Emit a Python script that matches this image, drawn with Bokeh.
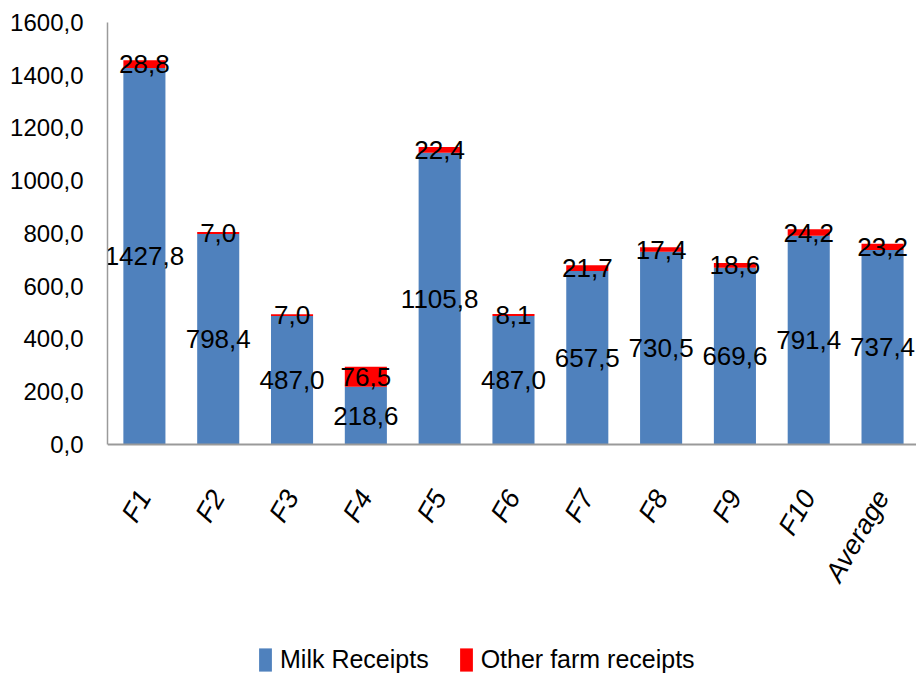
import math
from bokeh.plotting import figure
from bokeh.models import ColumnDataSource, Range1d, FixedTicker, Legend, LegendItem
from bokeh.core.properties import value
from bokeh.embed import file_html
from bokeh.resources import INLINE

categories = ["F1", "F2", "F3", "F4", "F5", "F6", "F7", "F8", "F9", "F10", "Average"]
milk_receipts = [1427.8, 798.4, 487.0, 218.6, 1105.8, 487.0, 657.5, 730.5, 669.6, 791.4, 737.4]
other_receipts = [28.8, 7.0, 7.0, 76.5, 22.4, 8.1, 21.7, 17.4, 18.6, 24.2, 23.2]
y_ticks = [0, 200, 400, 600, 800, 1000, 1200, 1400, 1600]

FONT = "Liberation Sans"
BLUE = "#4F81BD"
RED = "#FF0000"

def fmt(v):
    return f"{v:.1f}".replace(".", ",")

xs = [i + 0.5 for i in range(len(categories))]
top = [m + o for m, o in zip(milk_receipts, other_receipts)]
src = ColumnDataSource(dict(
    x=xs, milk=milk_receipts, other=other_receipts, top=top,
    milk_mid=[m / 2 for m in milk_receipts],
    other_mid=[m + o / 2 for m, o in zip(milk_receipts, other_receipts)],
    milk_lbl=[fmt(v) for v in milk_receipts],
    other_lbl=[fmt(v) for v in other_receipts],
))

# frame extends below zero to hold the category labels and the legend
p = figure(width=916, height=680, output_backend="svg", toolbar_location=None,
           x_range=Range1d(0, 10.96), y_range=Range1d(-895, 1600),
           min_border_left=107, min_border_right=0, min_border_top=22, min_border_bottom=0)
p.outline_line_color = None
p.xgrid.visible = False
p.ygrid.visible = False

w = 0.57
r_milk = p.vbar(x="x", width=w, bottom=0, top="milk", source=src, fill_color=BLUE, line_color=None)
r_other = p.vbar(x="x", width=w, bottom="milk", top="top", source=src, fill_color=RED, line_color=None)

for ycol, tcol in (("milk_mid", "milk_lbl"), ("other_mid", "other_lbl")):
    p.text(x="x", y=ycol, text=tcol, source=src, text_align="center", text_baseline="middle",
           text_font=value(FONT), text_font_size="26px", text_color="black")

# axes
p.yaxis.ticker = FixedTicker(ticks=y_ticks)
p.yaxis.bounds = (0, 1600)
p.yaxis.major_label_overrides = {t: fmt(t) for t in y_ticks}
p.yaxis.major_label_text_font = FONT
p.yaxis.major_label_text_font_size = "24px"
p.yaxis.major_label_text_color = "black"
p.yaxis.major_label_standoff = 24
p.yaxis.major_tick_out = 0
p.yaxis.major_tick_in = 0
p.yaxis.minor_tick_out = 0
p.yaxis.minor_tick_in = 0
p.yaxis.axis_line_color = "#9A9A9A"
p.yaxis.axis_line_width = 1.5

p.xaxis.fixed_location = 0
p.xaxis.ticker = FixedTicker(ticks=xs)
p.xaxis.major_label_overrides = {x: c for x, c in zip(xs, categories)}
p.xaxis.major_label_orientation = math.pi / 3
p.xaxis.major_label_text_font = FONT
p.xaxis.major_label_text_font_style = "italic"
p.xaxis.major_label_text_font_size = "27px"
p.xaxis.major_label_text_color = "black"
p.xaxis.major_label_standoff = 48
p.xaxis.major_tick_out = 0
p.xaxis.major_tick_in = 0
p.xaxis.minor_tick_out = 0
p.xaxis.minor_tick_in = 0
p.xaxis.axis_line_color = "#9A9A9A"
p.xaxis.axis_line_width = 2

legend = Legend(items=[LegendItem(label="Milk Receipts", renderers=[r_milk]),
                       LegendItem(label="Other farm receipts", renderers=[r_other])],
                orientation="horizontal", location=(150, 6),
                label_text_font=FONT, label_text_font_size="25px", label_text_color="black",
                glyph_width=16, glyph_height=29, label_standoff=7, spacing=29,
                padding=0, margin=0, border_line_color=None, background_fill_alpha=0)
p.add_layout(legend, "center")

open("out.html", "w").write(file_html(p, INLINE))
